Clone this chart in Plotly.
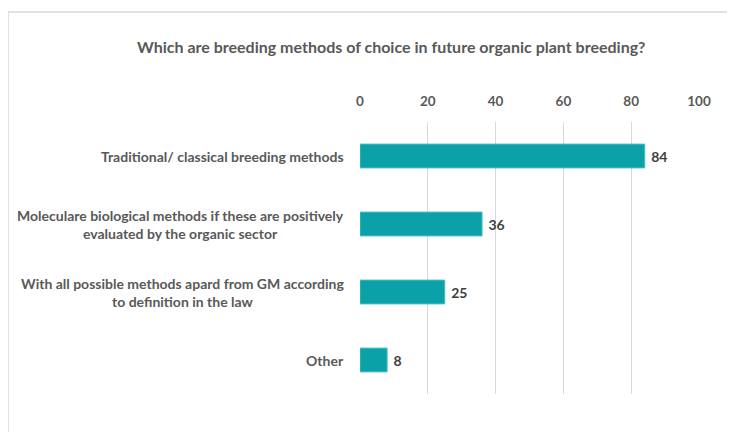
import plotly.graph_objects as go

categories = [
    "Traditional/ classical breeding methods",
    "Moleculare biological methods if these are positively<br>evaluated by the organic sector",
    "With all possible methods apard from GM according<br>to definition in the law",
    "Other",
]
values = [84, 36, 25, 8]
tick_values = [0, 20, 40, 60, 80, 100]
title_text = "Which are breeding methods of choice in future organic plant breeding?"

# page body has an 8px default margin; compensate so that page pixels match
OFF = 8
W, H = 735 - OFF, 432 - OFF
# desired page pixel positions
PL, PR, PT, PB = 360, 699, 122, 394
ML = PL - OFF
MT = PT - OFF
MR = W - (PR - OFF)
MB = H - (PB - OFF)
plot_w = W - ML - MR
plot_h = H - MT - MB

FONT = "Lato"
GRAY = "#595959"


def px_x(p):
    return (p - OFF - ML) / plot_w


def px_y(p):
    return (H - MB - (p - OFF)) / plot_h


fig = go.Figure()
fig.add_trace(go.Bar(
    x=values, y=categories, orientation="h",
    marker=dict(color="#0AA1A8", line=dict(color="#45BEC2", width=1)),
    texttemplate=" %{x}", textposition="outside",
    textfont=dict(family=FONT, size=14, color="#404040", weight="bold"),
    cliponaxis=False, width=0.35,
))

annotations = []
for c in categories:
    annotations.append(dict(
        x=0, xref="paper", y=c, yref="y", xanchor="right", yanchor="middle",
        xshift=-14, text=c, showarrow=False, align="center",
        font=dict(family=FONT, size=14, color=GRAY, weight="bold"),
    ))
annotations.append(dict(
    x=px_x(391), xref="paper", y=px_y(46), yref="paper",
    text=title_text, showarrow=False, xanchor="center", yanchor="middle",
    font=dict(family=FONT, size=16, color=GRAY, weight="bold"),
))

fig.update_layout(
    width=W, height=H,
    margin=dict(l=ML, r=MR, t=MT, b=MB),
    paper_bgcolor="white", plot_bgcolor="white",
    showlegend=False,
    annotations=annotations,
    xaxis=dict(
        side="top", range=[0, 100], tickvals=tick_values,
        showgrid=True, gridcolor="#D9D9D9", gridwidth=1,
        zeroline=False, showline=False, ticks="",
        ticklabelstandoff=12,
        tickfont=dict(family=FONT, size=13.5, color=GRAY, weight="bold"),
        fixedrange=True,
    ),
    yaxis=dict(
        autorange="reversed", showticklabels=False, showgrid=False,
        zeroline=False, showline=False, ticks="", fixedrange=True,
    ),
    shapes=[
        dict(type="line", xref="paper", yref="paper", x0=px_x(8), x1=px_x(800),
             y0=px_y(12), y1=px_y(12), line=dict(color="#D9D9D9", width=1.5)),
        dict(type="line", xref="paper", yref="paper", x0=px_x(8), x1=px_x(8),
             y0=px_y(12), y1=px_y(500), line=dict(color="#D9D9D9", width=1.5)),
    ],
)

fig.write_html("out.html", default_width=f"{W}px", default_height=f"{H}px")
